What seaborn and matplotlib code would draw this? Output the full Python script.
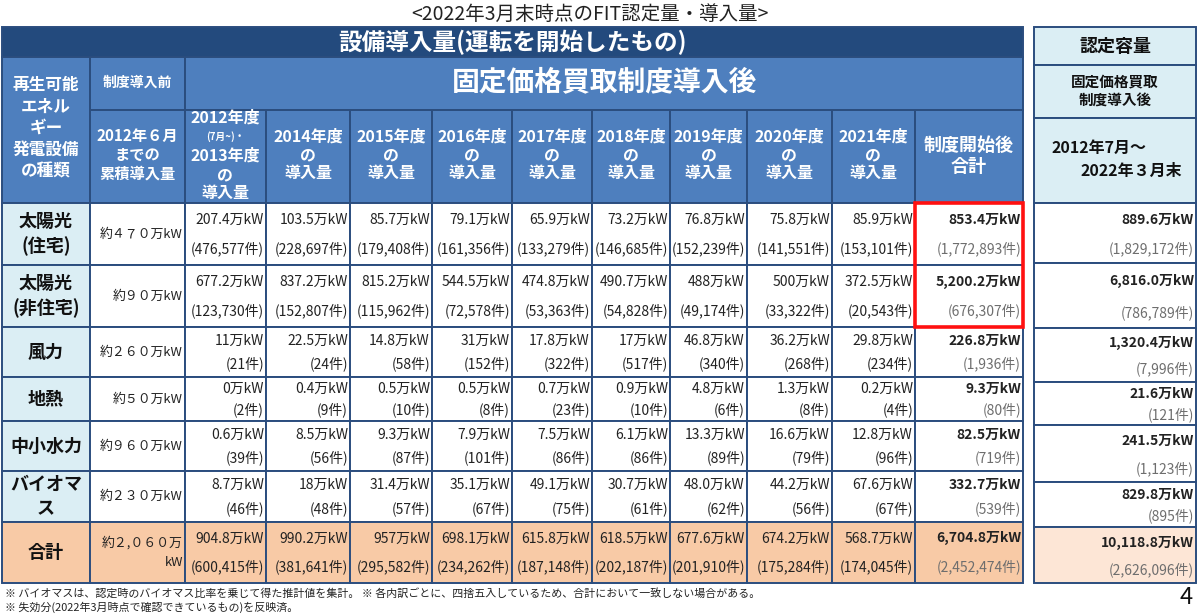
import matplotlib
matplotlib.use("Agg")
import matplotlib.pyplot as plt
from matplotlib.patches import Rectangle
import seaborn as sns

# ---- data, as printed in the source table ----
energy_types = ["太陽光\n(住宅)", "太陽光\n(非住宅)", "風力", "地熱", "中小水力", "バイオマ\nス", "合計"]
pre_fit = ["約４７０万kW", "約９０万kW", "約２６０万kW", "約５０万kW",
           "約９６０万kW", "約２３０万kW", "約２,０６０万\nkW"]
year_labels = ["2012年度", "2014年度", "2015年度", "2016年度", "2017年度",
               "2018年度", "2019年度", "2020年度", "2021年度"]

# 導入量 (万kW) per year, last item = 制度開始後合計
solar_home_kw = ["207.4", "103.5", "85.7", "79.1", "65.9", "73.2", "76.8", "75.8", "85.9", "853.4"]
solar_biz_kw = ["677.2", "837.2", "815.2", "544.5", "474.8", "490.7", "488", "500", "372.5", "5,200.2"]
wind_kw = ["11", "22.5", "14.8", "31", "17.8", "17", "46.8", "36.2", "29.8", "226.8"]
geo_kw = ["0", "0.4", "0.5", "0.5", "0.7", "0.9", "4.8", "1.3", "0.2", "9.3"]
hydro_kw = ["0.6", "8.5", "9.3", "7.9", "7.5", "6.1", "13.3", "16.6", "12.8", "82.5"]
biomass_kw = ["8.7", "18", "31.4", "35.1", "49.1", "30.7", "48.0", "44.2", "67.6", "332.7"]
total_kw = ["904.8", "990.2", "957", "698.1", "615.8", "618.5", "677.6", "674.2", "568.7", "6,704.8"]

# 件数
solar_home_n = [476577, 228697, 179408, 161356, 133279, 146685, 152239, 141551, 153101, 1772893]
solar_biz_n = [123730, 152807, 115962, 72578, 53363, 54828, 49174, 33322, 20543, 676307]
wind_n = [21, 24, 58, 152, 322, 517, 340, 268, 234, 1936]
geo_n = [2, 9, 10, 8, 23, 10, 6, 8, 4, 80]
hydro_n = [39, 56, 87, 101, 86, 86, 89, 79, 96, 719]
biomass_n = [46, 48, 57, 67, 75, 61, 62, 56, 67, 539]
total_n = [600415, 381641, 295582, 234262, 187148, 202187, 201910, 175284, 174045, 2452474]

# 認定容量
certified_kw = ["889.6", "6,816.0", "1,320.4", "21.6", "241.5", "829.8", "10,118.8"]
certified_n = [1829172, 786789, 7996, 121, 1123, 895, 2626096]

kw_rows = [solar_home_kw, solar_biz_kw, wind_kw, geo_kw, hydro_kw, biomass_kw, total_kw]
n_rows = [solar_home_n, solar_biz_n, wind_n, geo_n, hydro_n, biomass_n, total_n]

# ---- styling / layout (pixel grid of the slide) ----
sns.set_theme(style="white")
plt.rcParams["font.family"] = ["Noto Sans CJK JP", "DejaVu Sans"]

DARK = "#234a7d"
MID = "#4e7fbe"
LINE = "#2b4d7e"
LIGHT = "#dbeef4"
PEACH = "#f8caa6"
PEACH_LIGHT = "#fde6d6"
TXT = "#222222"
GRAY = "#6e6e6e"

col_x = [2, 90, 185, 266, 350, 432, 512, 592, 670, 747, 832, 915, 1023]
row_y = [203, 265, 327, 377, 421, 471, 522, 583]
right_x = (1034, 1196)
right_y = [203, 263, 328, 382, 425, 482, 527, 583]

fig = plt.figure(figsize=(12, 6.14), dpi=100)
ax = fig.add_axes([0, 0, 1, 1])
ax.set_xlim(0, 1200)
ax.set_ylim(614, 0)
ax.axis("off")


def cell(x0, x1, y0, y1, fc, ec=LINE, lw=1.4):
    ax.add_patch(Rectangle((x0, y0), x1 - x0, y1 - y0, facecolor=fc,
                           edgecolor=ec, linewidth=lw))


def txt(x, y, s, size=10, color=TXT, weight="normal", ha="center", **kw):
    ax.text(x, y, s, fontsize=size, color=color, fontweight=weight,
            ha=ha, va="center", **kw)


# title
txt(590, 14, "<2022年3月末時点のFIT認定量・導入量>", size=14)

# header rows
cell(col_x[0], col_x[-1], 27, 57, DARK)
txt((col_x[0] + col_x[-1]) / 2, 42, "設備導入量(運転を開始したもの)", size=17,
    color="white", weight="bold")

cell(col_x[0], col_x[1], 57, 203, MID)
txt((col_x[0] + col_x[1]) / 2, 128, "再生可能\nエネル\nギー\n発電設備\nの種類", size=12,
    color="white", weight="bold", linespacing=1.25)

cell(col_x[1], col_x[2], 57, 110, MID)
txt((col_x[1] + col_x[2]) / 2, 83, "制度導入前", size=10, color="white", weight="bold")
cell(col_x[1], col_x[2], 110, 203, MID)
txt((col_x[1] + col_x[2]) / 2, 155, "2012年６月\nまでの\n累積導入量", size=11,
    color="white", weight="bold", linespacing=1.2)

cell(col_x[2], col_x[-1], 57, 110, MID)
txt((col_x[2] + col_x[-1]) / 2, 82, "固定価格買取制度導入後", size=20,
    color="white", weight="bold")

for j in range(10):
    x0, x1 = col_x[j + 2], col_x[j + 3]
    cx = (x0 + x1) / 2
    cell(x0, x1, 110, 203, MID)
    if j == 0:
        txt(cx, 118, year_labels[0], size=11.5, color="white", weight="bold")
        txt(cx, 137, "(7月~)・", size=7, color="white", weight="bold")
        txt(cx, 156, "2013年度", size=11.5, color="white", weight="bold")
        txt(cx, 175, "の", size=11.5, color="white", weight="bold")
        txt(cx, 193, "導入量", size=11.5, color="white", weight="bold")
    elif j < 9:
        txt(cx, 155, f"{year_labels[j]}\nの\n導入量", size=11.5, color="white",
            weight="bold", linespacing=1.15)
    else:
        txt(cx, 156, "制度開始後\n合計", size=13, color="white", weight="bold",
            linespacing=1.2)

# data rows
for i, label in enumerate(energy_types):
    y0, y1 = row_y[i], row_y[i + 1]
    h = y1 - y0
    is_total = i == len(energy_types) - 1
    bg = PEACH if is_total else "white"
    cell(col_x[0], col_x[1], y0, y1, PEACH if is_total else LIGHT)
    txt((col_x[0] + col_x[1]) / 2, (y0 + y1) / 2, label, size=13, weight="bold",
        color="#111111", linespacing=1.3)
    cell(col_x[1], col_x[2], y0, y1, bg)
    txt(col_x[2] - 2, (y0 + y1) / 2, pre_fit[i], size=9.3, ha="right", linespacing=1.7)
    for j in range(10):
        x0, x1 = col_x[j + 2], col_x[j + 3]
        cell(x0, x1, y0, y1, bg)
        last = j == 9
        txt(x1 - 2, y0 + 0.27 * h, kw_rows[i][j] + "万kW", ha="right",
            weight="bold" if last else "normal")
        txt(x1 - 2, y0 + 0.74 * h, f"({n_rows[i][j]:,}件)", ha="right",
            color=GRAY if last else TXT)

# red highlight around the solar totals
ax.add_patch(Rectangle((col_x[-2], row_y[0]), col_x[-1] - col_x[-2], row_y[2] - row_y[0],
                       facecolor="none", edgecolor="#ff1010", linewidth=2.6, zorder=5))

# right table: 認定容量
rx0, rx1 = right_x
cell(rx0, rx1, 27, 65, LIGHT)
txt((rx0 + rx1) / 2, 46, "認定容量", size=13, weight="bold", color="#111111")
cell(rx0, rx1, 65, 118, LIGHT)
txt((rx0 + rx1) / 2, 91, "固定価格買取\n制度導入後", size=10.5, weight="bold",
    color="#111111", linespacing=1.3)
cell(rx0, rx1, 118, 203, LIGHT)
txt(1052, 148, "2012年7月～", size=11.5, weight="bold", color="#111111", ha="left")
txt(1182, 171, "2022年３月末", size=11.5, weight="bold", color="#111111", ha="right")

for i in range(len(certified_kw)):
    y0, y1 = right_y[i], right_y[i + 1]
    h = y1 - y0
    is_total = i == len(certified_kw) - 1
    cell(rx0, rx1, y0, y1, PEACH_LIGHT if is_total else "white")
    txt(rx1 - 2, y0 + 0.28 * h, certified_kw[i] + "万kW", ha="right", weight="bold")
    txt(rx1 - 2, y0 + 0.76 * h, f"({certified_n[i]:,}件)", ha="right", color=GRAY)

# footnotes
txt(5, 593, "※ バイオマスは、認定時のバイオマス比率を乗じて得た推計値を集計。 "
    "※ 各内訳ごとに、四捨五入しているため、合計において一致しない場合がある。",
    size=7.9, ha="left")
txt(5, 607, "※ 失効分(2022年3月時点で確認できているもの)を反映済。", size=7.9, ha="left")
txt(1186, 597, "4", size=17, color="#111111")

fig.savefig("out.png", dpi=100)
